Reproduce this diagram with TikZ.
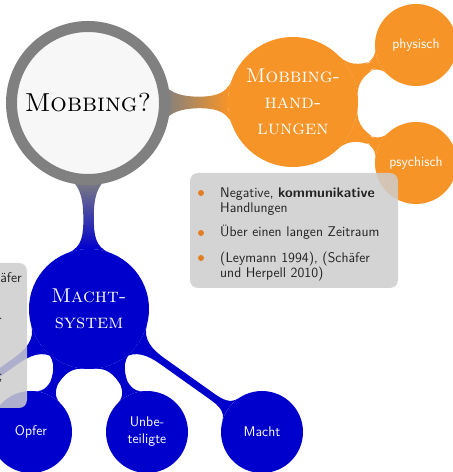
\documentclass[tikz,border=0pt]{standalone}
\usetikzlibrary{mindmap,backgrounds}
\definecolor{mmorange}{RGB}{247,148,40}
\definecolor{mmblue}{RGB}{0,0,205}
\definecolor{mmgray}{RGB}{128,128,128}
\definecolor{boxgray}{RGB}{205,205,205}
\definecolor{bulletorange}{RGB}{225,125,35}
\definecolor{notetext}{RGB}{35,35,35}
\begin{document}
\begin{tikzpicture}[x=1pt,y=1pt,
  mm/.style={circle, inner sep=0pt, outer sep=0pt, align=center, draw=none},
  rootc/.style={mm, draw=mmgray, line width=11pt, fill=black!3, text=black, minimum size=153pt,
     font=\fontsize{26}{30}\selectfont\rmfamily\scshape},
  lvlone/.style={mm, minimum size=130pt, text=white, font=\fontsize{20}{26}\selectfont\rmfamily\scshape},
  lvltwo/.style={mm, minimum size=82pt, text=white, font=\fontsize{14}{17}\selectfont\sffamily},
  notebox/.style={fill=boxgray, fill opacity=0.85, rounded corners=8pt, draw=none},
  notetxt/.style={anchor=base west, inner sep=0pt, text=notetext, font=\fontsize{14}{17}\selectfont\sffamily},
  fragtxt/.style={anchor=base east, inner sep=0pt, text=notetext, font=\fontsize{14}{17}\selectfont\sffamily},
  dotbullet/.style={circle, fill=bulletorange, inner sep=0pt, minimum size=6pt}
]
\useasboundingbox (0,0) rectangle (453,472);

% concepts
\node[rootc] (root) at (88,369) {Mobbing?};
\node[lvlone, fill=mmorange] (mh) at (293,370) {Mobbing-\\hand-\\lungen};
\node[lvltwo, fill=mmorange] (phys) at (416,427) {physisch};
\node[lvltwo, fill=mmorange] (psych) at (416,309) {psychisch};
\node[lvlone, fill=mmblue, minimum size=120pt] (ms) at (89,163) {Macht-\\system};
\node[lvltwo, fill=mmblue] (opfer) at (31,40) {Opfer};
\node[lvltwo, fill=mmblue] (unbet) at (147,40) {Unbe-\\teiligte};
\node[lvltwo, fill=mmblue] (macht) at (262,40) {Macht};
\node[lvltwo, fill=mmblue] (offleft) at (-84,40) {};

% connections
\begin{scope}[on background layer, mindmap]
  \path[line width=10pt] (root) to[circle connection bar switch color=from (mmgray) to (mmorange)] (mh);
  \path[line width=10pt] (root) to[circle connection bar switch color=from (mmgray) to (mmblue)] (ms);
  \path[line width=7pt, concept color=mmorange] (mh) to[circle connection bar] (phys);
  \path[line width=7pt, concept color=mmorange] (mh) to[circle connection bar] (psych);
  \path[line width=8pt, concept color=mmblue] (ms) to[circle connection bar] (opfer);
  \path[line width=8pt, concept color=mmblue] (ms) to[circle connection bar] (unbet);
  \path[line width=8pt, concept color=mmblue] (ms) to[circle connection bar] (macht);
  \path[line width=8pt, concept color=mmblue] (ms) to[circle connection bar] (offleft);
\end{scope}

% annotation right
\node[notebox, minimum width=208pt, minimum height=115pt] (notes) at (294,241.5) {};
\node[dotbullet] (b1) at (201,279) {};
\node[dotbullet] (b2) at (201,239) {};
\node[dotbullet] (b3) at (201,214) {};
\node[notetxt] (t1) at (220,274) {Negative, \textbf{kommunikative}};
\node[notetxt] (t2) at (220,259) {Handlungen};
\node[notetxt] (t3) at (220,235) {Über einen langen Zeitraum};
\node[notetxt] (t4) at (220,209) {(Leymann 1994), (Schäfer};
\node[notetxt] (t5) at (220,194) {und Herpell 2010)};

% annotation left (cut off)
\node[notebox, minimum width=107pt, minimum height=145pt] (notesleft) at (-26.5,136.5) {};
\node[fragtxt] (f1) at (22,189) {Schäfer};
\node[fragtxt] (f2) at (3,152) {ist.};
\node[fragtxt] (f3) at (3,91) {ab;};
\end{tikzpicture}
\end{document}
